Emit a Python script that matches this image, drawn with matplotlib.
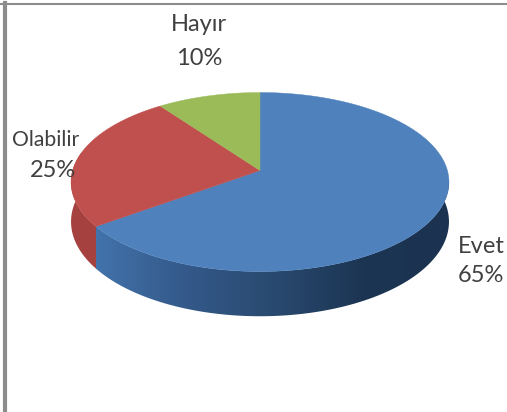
import numpy as np
import matplotlib
matplotlib.use('Agg')
import matplotlib.pyplot as plt
from matplotlib.colors import LinearSegmentedColormap
from matplotlib.patches import Polygon

# Chart data, clockwise from the top
labels = ['Evet', 'Olabilir', 'Hayır']
shares = [65, 25, 10]
top_colors = ['#4f81bd', '#c0504d', '#9bbb59']
side_colors = ['#3d6a9f', '#a5423f', '#7d9a45']

# Pie placement in pixels, the front of the disc is drawn larger (perspective)
cx, cy = 260, 170.5
rx, ry = 187.4, 88
persp = 0.1286
depth = 39


def project(deg, drop=0):
    t = np.radians(deg)
    u, v = np.sin(t), -np.cos(t)
    den = 1 - persp * v
    return cx + rx * u / den, cy + (ry * v + drop) / den


fig = plt.figure(figsize=(5.07, 4.12), dpi=100)
ax = fig.add_axes([0, 0, 1, 1])
ax.set_xlim(0, 507)
ax.set_ylim(412, 0)
ax.axis('off')

# Slice angles come from the shares
edges = np.concatenate([[0], np.cumsum(shares)]) * 3.6
shade = LinearSegmentedColormap.from_list('side', ['#4273ab', '#34598a', '#294a70', '#1c3553', '#1b3350'])

# Side wall, only the part facing the viewer
for i in [1, 0]:
    start, end = max(edges[i], 78), min(edges[i + 1], 282)
    if start >= end:
        continue
    a = np.linspace(start, end, 200)
    xt, yt = project(a)
    xb, yb = project(a, depth)
    pts = np.column_stack([np.r_[xt, xb[::-1]], np.r_[yt, yb[::-1]]])
    if labels[i] == 'Evet':
        poly = Polygon(pts, closed=True, fc='none', ec='none', transform=ax.transData)
        ax.add_patch(poly)
        grad = np.linspace(0, 1, 256).reshape(1, -1)
        im = ax.imshow(grad, extent=[96, 450, 320, 180], cmap=shade, aspect='auto', zorder=1)
        im.set_clip_path(poly)
    else:
        ax.fill(pts[:, 0], pts[:, 1], color=side_colors[i], lw=0, zorder=1)

# Top face
for i in range(len(shares)):
    a = np.linspace(edges[i], edges[i + 1], 200)
    xt, yt = project(a)
    ax.fill(np.r_[cx, xt], np.r_[cy, yt], color=top_colors[i], lw=0.3, zorder=2)

ax.set_xlim(0, 507)
ax.set_ylim(412, 0)

# Labels, each line placed on its own
font = dict(family='Lato', color='#404040', ha='center', va='center', zorder=3)
ax.text(199, 24, labels[2], fontsize=17, **font)
ax.text(199, 58, f'{shares[2]}%', fontsize=17, **font)
ax.text(46, 140, labels[1], fontsize=15.2, **font)
ax.text(53, 170, f'{shares[1]}%', fontsize=17, **font)
ax.text(481, 246, labels[0], fontsize=17, **font)
ax.text(481, 276, f'{shares[0]}%', fontsize=17, **font)

# Grey frame of the screenshot
ax.plot([0, 507], [3.5, 3.5], color='#8c8c8c', lw=1.5, zorder=4)
ax.plot([4.5, 4.5], [3, 412], color='#8c8c8c', lw=3, zorder=4)

fig.savefig('out.png', dpi=100)
